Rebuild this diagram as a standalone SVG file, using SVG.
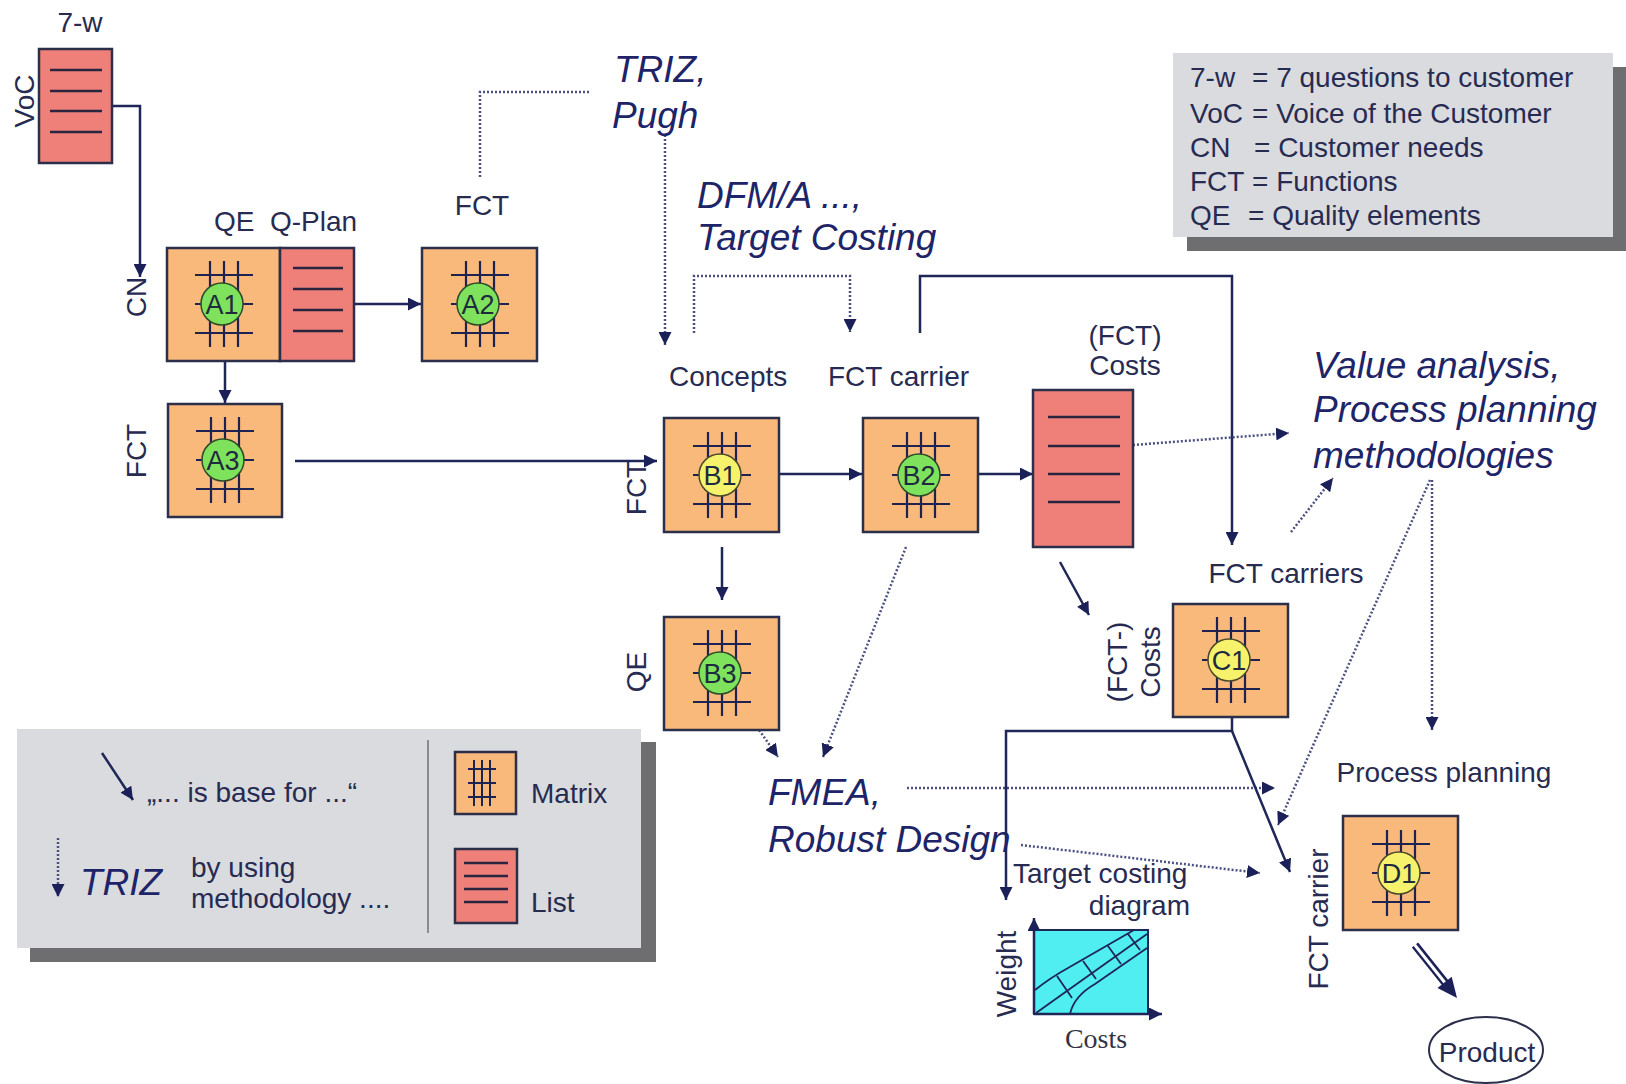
<svg xmlns="http://www.w3.org/2000/svg" xmlns:xlink="http://www.w3.org/1999/xlink" width="1626" height="1084" viewBox="0 0 1626 1084">
<style>
.lbl{font-family:"Liberation Sans",Arial,sans-serif;font-size:28px;fill:#272b52}
.it{font-family:"Liberation Sans",Arial,sans-serif;font-style:italic;font-size:37px;fill:#1e2468}
.mx{fill:#f8b97b;stroke:#2b2f4a;stroke-width:2.5}
.ls{fill:#ee8079;stroke:#2b2f4a;stroke-width:2.5}
.ll{stroke:#2a2440;stroke-width:2.5}
.cg{fill:#7fe25c;stroke:#2d4a2a;stroke-width:1.5}
.cy{fill:#f6f26b;stroke:#4a4a2a;stroke-width:1.5}
.ct{font-family:"Liberation Sans",Arial,sans-serif;font-size:27px;fill:#1e2a40;text-anchor:middle}
.con{fill:none;stroke:#1f2658;stroke-width:2.5}
.dot{fill:none;stroke:#4b5080;stroke-width:2.5;stroke-dasharray:2 2}
.mid{text-anchor:middle}
</style>
<defs>
<marker id="ah" viewBox="0 0 12 12" refX="12" refY="6" markerWidth="13" markerHeight="13" markerUnits="userSpaceOnUse" orient="auto"><path d="M0,0 L12,6 L0,12 z" fill="#1b2058"/></marker>
<g id="grid" stroke="#1e2250" stroke-width="2.2" fill="none">
<path d="M-29,-29H29M-29,0H29M-29,29H29M-14,-43V43M0,-43V43M14,-43V43"/>
</g>
</defs>
<rect width="1626" height="1084" fill="#ffffff"/>

<!-- legend boxes -->
<g id="legend-top">
<rect x="1187" y="67" width="439" height="184" fill="#6e6e70"/>
<rect x="1173" y="53" width="440" height="184" fill="#dadbde"/>
<text class="lbl" x="1190" y="87">7-w</text><text class="lbl" x="1252" y="87">= 7 questions to customer</text>
<text class="lbl" x="1190" y="123">VoC</text><text class="lbl" x="1252" y="123">= Voice of the Customer</text>
<text class="lbl" x="1190" y="157">CN</text><text class="lbl" x="1254" y="157">= Customer needs</text>
<text class="lbl" x="1190" y="191">FCT</text><text class="lbl" x="1252" y="191">= Functions</text>
<text class="lbl" x="1190" y="225">QE</text><text class="lbl" x="1248" y="225">= Quality elements</text>
</g>
<g id="legend-bottom">
<rect x="30" y="742" width="626" height="220" fill="#6e6e70"/>
<rect x="17" y="729" width="624" height="219" fill="#dadbde"/>
<line x1="428" y1="740" x2="428" y2="933" stroke="#8a8a90" stroke-width="2"/>
<path class="con" d="M102,753 L133,800" marker-end="url(#ah)"/>
<text class="lbl" x="147" y="802">„... is base for ...“</text>
<path class="dot" d="M58,838 V897" marker-end="url(#ah)"/>
<text class="it" x="80" y="895">TRIZ</text>
<text class="lbl" x="191" y="877">by using</text>
<text class="lbl" x="191" y="908">methodology ....</text>
<rect class="mx" x="455" y="752" width="61" height="62"/>
<path d="M474,760V806M482,760V806M490,760V806M468,769H496M468,783H496M468,797H496" stroke="#1e2250" stroke-width="2"/>
<text class="lbl" x="531" y="803">Matrix</text>
<rect class="ls" x="455" y="849" width="62" height="74"/>
<path class="ll" d="M464,863H508M464,876H508M464,889H508M464,902H508"/>
<text class="lbl" x="531" y="912">List</text>
</g>

<!-- connectors -->
<g id="connectors">
<path class="con" d="M112,106 H140 V277" marker-end="url(#ah)"/>
<path class="con" d="M354,304 H421" marker-end="url(#ah)"/>
<path class="con" d="M225,361 V403" marker-end="url(#ah)"/>
<path class="dot" d="M480,177 V92 H590"/>
<path class="con" d="M295,461 H657" marker-end="url(#ah)"/>
<path class="dot" d="M665,135 V345" marker-end="url(#ah)"/>
<path class="dot" d="M694,333 V276 H850 V332" marker-end="url(#ah)"/>
<path class="con" d="M920,333 V276 H1232 V545" marker-end="url(#ah)"/>
<path class="con" d="M779,474 H862" marker-end="url(#ah)"/>
<path class="con" d="M978,474 H1033" marker-end="url(#ah)"/>
<path class="con" d="M722,547 V600" marker-end="url(#ah)"/>
<path class="dot" d="M1133,445 L1289,433" marker-end="url(#ah)"/>
<path class="con" d="M1060,562 L1089,615" marker-end="url(#ah)"/>
<path class="dot" d="M750,717 L778,757" marker-end="url(#ah)"/>
<path class="dot" d="M906,547 L823,757" marker-end="url(#ah)"/>
<path class="dot" d="M1291,532 L1333,478" marker-end="url(#ah)"/>
<path class="dot" d="M1430,480 L1278,825" marker-end="url(#ah)"/>
<path class="dot" d="M1432,480 V730" marker-end="url(#ah)"/>
<path class="dot" d="M907,788 H1275" marker-end="url(#ah)"/>
<path class="dot" d="M1021,845 L1260,873" marker-end="url(#ah)"/>
<path class="con" d="M1232,717 V731 H1006 V900" marker-end="url(#ah)"/>
<path class="con" d="M1232,731 L1290,872" marker-end="url(#ah)"/>
<path d="M1415,945 L1447,985" stroke="#1b2058" stroke-width="8" fill="none"/>
<path d="M1414,944 L1446,984" stroke="#ffffff" stroke-width="3" fill="none"/>
<polygon points="1457,998 1437.5,987.9 1451.7,976.7" fill="#1b2058"/>
</g>

<!-- VoC list -->
<g id="voc">
<text class="lbl mid" x="80" y="32">7-w</text>
<rect class="ls" x="39" y="49" width="73" height="114"/>
<path class="ll" d="M50,70H102M50,91H102M50,111H102M50,132H102"/>
<text class="lbl mid" transform="rotate(-90 34 101)" x="34" y="101">VoC</text>
</g>

<!-- A1 + Q-Plan -->
<g id="A1">
<text class="lbl" x="214" y="231">QE</text>
<text class="lbl" x="270" y="231">Q-Plan</text>
<text class="lbl mid" transform="rotate(-90 146 297)" x="146" y="297">CN</text>
<rect class="mx" x="167" y="248" width="113" height="113"/>
<use xlink:href="#grid" href="#grid" transform="translate(224,304)"/>
<circle class="cg" cx="222" cy="304" r="21"/>
<text class="ct" x="222" y="314">A1</text>
</g>
<g id="QPlan">
<rect class="ls" x="280" y="248" width="74" height="113"/>
<path class="ll" d="M293,268H343M293,289H343M293,310H343M293,331H343"/>
</g>
<g id="A2">
<text class="lbl mid" x="482" y="215">FCT</text>
<rect class="mx" x="422" y="248" width="115" height="113"/>
<use xlink:href="#grid" href="#grid" transform="translate(480,304)"/>
<circle class="cg" cx="478" cy="304" r="21"/>
<text class="ct" x="478" y="314">A2</text>
</g>
<g id="A3">
<text class="lbl mid" transform="rotate(-90 146 451)" x="146" y="451">FCT</text>
<rect class="mx" x="168" y="404" width="114" height="113"/>
<use xlink:href="#grid" href="#grid" transform="translate(225,460)"/>
<circle class="cg" cx="223" cy="460" r="21"/>
<text class="ct" x="223" y="470">A3</text>
</g>

<!-- method labels -->
<g id="triz">
<text class="it" x="614" y="82">TRIZ,</text>
<text class="it" x="612" y="128">Pugh</text>
</g>
<g id="dfma">
<text class="it" x="697" y="208">DFM/A ...,</text>
<text class="it" x="697" y="250">Target Costing</text>
</g>

<g id="B1">
<text class="lbl" x="669" y="386">Concepts</text>
<text class="lbl mid" transform="rotate(-90 646 488)" x="646" y="488">FCT</text>
<rect class="mx" x="664" y="418" width="115" height="114"/>
<use xlink:href="#grid" href="#grid" transform="translate(722,475)"/>
<circle class="cy" cx="720" cy="475" r="21"/>
<text class="ct" x="720" y="485">B1</text>
</g>
<g id="B2">
<text class="lbl" x="828" y="386">FCT carrier</text>
<rect class="mx" x="863" y="418" width="115" height="114"/>
<use xlink:href="#grid" href="#grid" transform="translate(921,475)"/>
<circle class="cg" cx="919" cy="475" r="21"/>
<text class="ct" x="919" y="485">B2</text>
</g>
<g id="B3">
<text class="lbl mid" transform="rotate(-90 646 672)" x="646" y="672">QE</text>
<rect class="mx" x="664" y="617" width="115" height="113"/>
<use xlink:href="#grid" href="#grid" transform="translate(722,673)"/>
<circle class="cg" cx="720" cy="673" r="21"/>
<text class="ct" x="720" y="683">B3</text>
</g>
<g id="costs">
<text class="lbl mid" x="1125" y="345">(FCT)</text>
<text class="lbl mid" x="1125" y="375">Costs</text>
<rect class="ls" x="1033" y="390" width="100" height="157"/>
<path class="ll" d="M1048,417H1120M1048,446H1120M1048,474H1120M1048,502H1120"/>
</g>
<g id="value">
<text class="it" x="1313" y="378">Value analysis,</text>
<text class="it" x="1313" y="422">Process planning</text>
<text class="it" x="1313" y="468">methodologies</text>
</g>
<g id="C1">
<text class="lbl mid" x="1286" y="583">FCT carriers</text>
<text class="lbl mid" transform="rotate(-90 1127 662)" x="1127" y="662">(FCT-)</text>
<text class="lbl mid" transform="rotate(-90 1160 662)" x="1160" y="662">Costs</text>
<rect class="mx" x="1173" y="604" width="115" height="113"/>
<use xlink:href="#grid" href="#grid" transform="translate(1231,660)"/>
<circle class="cy" cx="1229" cy="660" r="21"/>
<text class="ct" x="1229" y="670">C1</text>
</g>
<g id="fmea">
<text class="it" x="768" y="805">FMEA,</text>
<text class="it" x="768" y="852">Robust Design</text>
</g>
<g id="tcd">
<text class="lbl" x="1013" y="883">Target costing</text>
<text class="lbl" x="1190" y="915" text-anchor="end">diagram</text>
<rect x="1034" y="930" width="114" height="84" fill="#50eef0" stroke="#1f2658" stroke-width="2"/>
<path d="M1035,990 Q1050,978 1068,968 L1134,930 M1036,1013 L1147,934 M1070,1014 Q1074,996 1095,984 L1147,948 M1057,976 L1072,998 M1083,961 L1096,979 M1108,946 L1121,964 M1128,934 L1140,950" stroke="#1f2658" stroke-width="1.8" fill="none"/>
<path class="con" d="M1034,1014 V918" marker-end="url(#ah)"/>
<path class="con" d="M1034,1014 H1162" marker-end="url(#ah)"/>
<text class="lbl mid" transform="rotate(-90 1016 974)" x="1016" y="974">Weight</text>
<text x="1096" y="1048" text-anchor="middle" font-family="'Liberation Serif','Times New Roman',serif" font-size="28" fill="#333344">Costs</text>
</g>
<g id="D1">
<text class="lbl mid" x="1444" y="782">Process planning</text>
<text class="lbl mid" transform="rotate(-90 1328 919)" x="1328" y="919">FCT carrier</text>
<rect class="mx" x="1343" y="816" width="115" height="114"/>
<use xlink:href="#grid" href="#grid" transform="translate(1401,873)"/>
<circle class="cy" cx="1399" cy="873" r="21"/>
<text class="ct" x="1399" y="883">D1</text>
</g>
<g id="product">
<ellipse cx="1486" cy="1050" rx="57" ry="33" fill="#ffffff" stroke="#2b2f4a" stroke-width="2"/>
<text class="lbl mid" x="1487" y="1062">Product</text>
</g>
</svg>
